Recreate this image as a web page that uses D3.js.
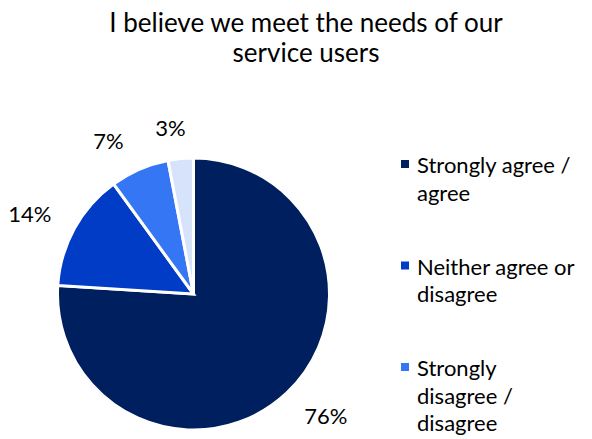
<!DOCTYPE html>
<html>
<head>
<meta charset="utf-8">
<script src="https://cdn.jsdelivr.net/npm/d3@7"></script>
<style>
  html, body { margin: 0; padding: 0; background: #fff; overflow: hidden; }
  svg { display: block; font-family: Lato, "Open Sans", sans-serif; }
</style>
</head>
<body>
<svg id="chart" width="592" height="439"></svg>
<script>
// Survey responses (percent of respondents)
const categories = [
  ["Strongly agree /", "agree"],
  ["Neither agree or", "disagree"],
  ["Strongly", "disagree /", "disagree"],
  ["Don't know"]
];
const values = [76, 14, 7, 3];
const colors = ["#001f5e", "#003cc6", "#3476f4", "#d6e3fb"];
const titleLines = ["I believe we meet the needs of our", "service users"];

const svg = d3.select("#chart");
const H = 439;
const cx = 193.5, cy = 294, R = 136;

// Title
svg.append("g")
  .selectAll("text")
  .data(titleLines)
  .join("text")
  .attr("x", 306)
  .attr("y", (d, i) => 32 + i * 30)
  .attr("text-anchor", "middle")
  .attr("font-size", 26)
  .attr("fill", "#000")
  .text(d => d);

// Pie, clockwise from 12 o'clock
const pie = d3.pie().sort(null).value(d => d);
const arcs = pie(values);
const arc = d3.arc().innerRadius(0).outerRadius(R);

const g = svg.append("g").attr("transform", `translate(${cx},${cy})`);
g.selectAll("path")
  .data(arcs)
  .join("path")
  .attr("d", arc)
  .attr("fill", (d, i) => colors[i])
  .attr("stroke", "#fff")
  .attr("stroke-width", 3)
  .attr("stroke-linejoin", "miter");

// Percent labels just outside each slice
g.selectAll("text.lbl")
  .data(arcs)
  .join("text")
  .attr("class", "lbl")
  .attr("x", d => {
    const a = (d.startAngle + d.endAngle) / 2;
    const s = Math.sin(a);
    return 164 * s + 20 * Math.max(-1, Math.min(1, s * 4));
  })
  .attr("y", d => {
    const a = (d.startAngle + d.endAngle) / 2;
    return -167 * Math.cos(a) + 8;
  })
  .attr("text-anchor", "middle")
  .attr("font-size", 22)
  .attr("fill", "#000")
  .text(d => d.value + "%");

// Legend: equal slot per entry; entries that start below the chart area are skipped
const legend = svg.append("g").attr("transform", "translate(401,0)");
const lineH = 27.5, slot = 101.5, firstBaseline = 173;
categories.forEach((lines, i) => {
  const y0 = firstBaseline + i * slot;
  if (y0 > H) return;
  const item = legend.append("g");
  item.append("rect")
    .attr("x", 0)
    .attr("y", y0 - 13)
    .attr("width", 8)
    .attr("height", 8)
    .attr("fill", colors[i]);
  item.selectAll("text")
    .data(lines)
    .join("text")
    .attr("x", 16)
    .attr("y", (d, j) => y0 + j * lineH)
    .attr("font-size", 22)
    .attr("fill", "#000")
    .text(d => d);
});
</script>
</body>
</html>
